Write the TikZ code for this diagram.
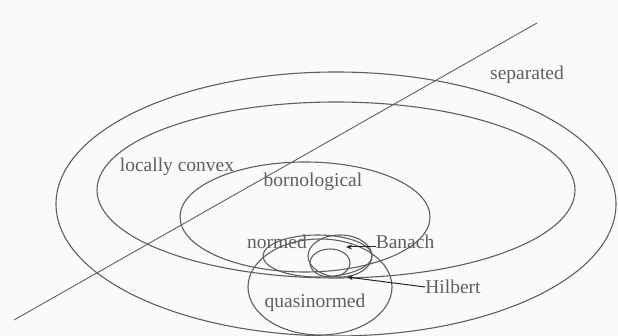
\documentclass[tikz,border=0pt]{standalone}
\usepackage{fontspec}
\setmainfont{Liberation Serif}
\usetikzlibrary{shapes.geometric,arrows.meta}
\definecolor{bgc}{RGB}{250,250,250}
\definecolor{linec}{RGB}{95,95,95}
\definecolor{textc}{RGB}{95,95,95}
\begin{document}
\begin{tikzpicture}[x=1pt,y=-1pt,
  set/.style={draw=linec, line width=1.1pt, ellipse, inner sep=0pt},
  lbl/.style={text=textc, font=\fontsize{19.5}{22}\selectfont, inner sep=0pt},
  pointer/.style={draw=black!85, line width=1pt, -{Stealth[length=6pt,width=5pt]}}]
\path[fill=bgc] (0,0) rectangle (618,336);
\useasboundingbox (0,0) rectangle (618,336);
% sets
\node[set, minimum width=560pt, minimum height=264pt] (sep) at (336,204) {};
\node[set, minimum width=478pt, minimum height=176pt] (lc) at (336,190) {};
\node[set, minimum width=250pt, minimum height=110pt] (born) at (305,217) {};
\node[set, minimum width=144pt, minimum height=96pt] (quasi) at (320,287) {};
\node[set, minimum width=109pt, minimum height=42pt] (normed) at (317.5,256) {};
\node[set, minimum width=64pt, minimum height=42pt] (banach) at (340,256) {};
\node[set, minimum width=40pt, minimum height=28pt] (hilb) at (330,263) {};
% diagonal line
\coordinate (d1) at (14,320);
\coordinate (d2) at (537,23);
\draw[linec, line width=0.9pt] (d1) -- (d2);
% labels
\node[lbl] (tsep) at (527,75) {separated};
\node[lbl] (tlc) at (177,167) {locally convex};
\node[lbl] (tborn) at (313,182) {bornological};
\node[lbl] (tnormed) at (277,242) {normed};
\node[lbl] (tbanach) at (405,242) {Banach};
\node[lbl] (thilb) at (453,287) {Hilbert};
\node[lbl] (tquasi) at (315,303) {quasinormed};
% pointers
\coordinate (pb) at (346,247);
\coordinate (ph) at (347,277);
\draw[pointer] (tbanach.west |- pb) -- (pb);
\draw[pointer] (thilb.west) -- (ph);
\end{tikzpicture}
\end{document}
